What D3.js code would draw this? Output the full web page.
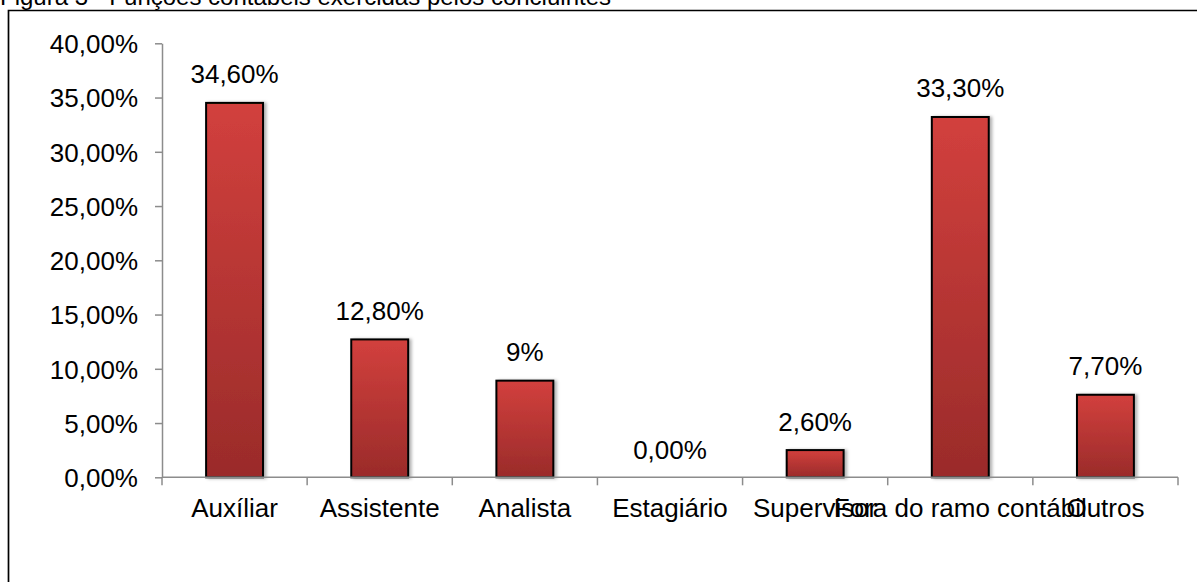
<!DOCTYPE html>
<html>
<head>
<meta charset="utf-8">
<script src="https://cdn.jsdelivr.net/npm/d3@7"></script>
<style>
  html, body { margin: 0; padding: 0; background: #fff; }
  svg { display: block; }
  text { font-family: "Liberation Sans", Arial, sans-serif; fill: #000; }
</style>
</head>
<body>
<svg id="chart" width="1197" height="582"></svg>
<script>
const title = "Figura 3 - Funções contábeis exercidas pelos concluintes";
const categories = ["Auxíliar", "Assistente", "Analista", "Estagiário", "Supervisor", "Fora do ramo contábil", "Outros"];
const values = [34.6, 12.8, 9, 0, 2.6, 33.3, 7.7];
const valueLabels = ["34,60%", "12,80%", "9%", "0,00%", "2,60%", "33,30%", "7,70%"];
const yTicks = [0, 5, 10, 15, 20, 25, 30, 35, 40];
const yTickLabels = ["0,00%", "5,00%", "10,00%", "15,00%", "20,00%", "25,00%", "30,00%", "35,00%", "40,00%"];

const svg = d3.select("#chart");
const FONT = 26;

// title (partially cut off at top)
svg.append("text").attr("x", 0).attr("y", 5)
  .style("font-size", "24px").text(title);

// frame
svg.append("path")
  .attr("d", "M8.5,600 L8.5,10.5 L1210,10.5")
  .attr("fill", "none").attr("stroke", "#000").attr("stroke-width", 1.7);

const plot = { left: 162, right: 1178, top: 43.3, bottom: 477.3 };

const x = d3.scaleBand().domain(categories).range([plot.left, plot.right])
  .paddingInner(0.594).paddingOuter(0.297);
const y = d3.scaleLinear().domain([0, 40]).range([plot.bottom, plot.top]);

const defs = svg.append("defs");
const grad = defs.append("linearGradient").attr("id", "barGrad")
  .attr("x1", 0).attr("y1", 0).attr("x2", 0).attr("y2", 1);
grad.append("stop").attr("offset", "0%").attr("stop-color", "#d2403d");
grad.append("stop").attr("offset", "100%").attr("stop-color", "#9a2b2a");
const filt = defs.append("filter").attr("id", "shadow")
  .attr("x", "-20%").attr("y", "-10%").attr("width", "150%").attr("height", "130%");
filt.append("feDropShadow").attr("dx", 2.5).attr("dy", 0.5)
  .attr("stdDeviation", 1.5).attr("flood-color", "#000").attr("flood-opacity", 0.3);

// bars
const bars = categories.map((c, i) => ({ c, v: values[i], label: valueLabels[i] }));
svg.append("g").selectAll("rect")
  .data(bars.filter(d => d.v > 0)).join("rect")
  .attr("x", d => x(d.c) + 1)
  .attr("y", d => y(d.v) + 1)
  .attr("width", x.bandwidth() - 2)
  .attr("height", d => y(0) - y(d.v) - 1)
  .attr("fill", "url(#barGrad)")
  .attr("stroke", "#000").attr("stroke-width", 2)
  .attr("filter", "url(#shadow)");

// y axis
const yAxis = d3.axisLeft(y).tickValues(yTicks)
  .tickFormat((d, i) => yTickLabels[i]).tickSize(7).tickSizeOuter(0);
const gy = svg.append("g").attr("transform", `translate(${plot.left},0)`).call(yAxis);
gy.select(".domain").attr("stroke", "#8c8c8c").attr("stroke-width", 1.5);
gy.selectAll(".tick line").attr("stroke", "#8c8c8c").attr("stroke-width", 1.5);
gy.selectAll(".tick text").attr("x", -24).attr("dy", "0.36em")
  .style("font-size", FONT + "px").style("font-family", '"Liberation Sans", Arial, sans-serif')
  .attr("fill", "#000");

// x axis
const step = x.step();
const boundaries = d3.range(categories.length + 1).map(i => plot.left + i * step);
const gx = svg.append("g");
gx.append("line").attr("x1", plot.left).attr("x2", plot.right)
  .attr("y1", y(0)).attr("y2", y(0))
  .attr("stroke", "#8c8c8c").attr("stroke-width", 1.5);
gx.selectAll("line.tk").data(boundaries).join("line").attr("class", "tk")
  .attr("x1", d => d).attr("x2", d => d)
  .attr("y1", y(0)).attr("y2", y(0) + 8)
  .attr("stroke", "#8c8c8c").attr("stroke-width", 1.5);
gx.selectAll("text").data(categories).join("text")
  .attr("x", d => x(d) + x.bandwidth() / 2)
  .attr("y", 517)
  .attr("text-anchor", "middle")
  .style("font-size", FONT + "px")
  .text(d => d);

// value labels
svg.append("g").selectAll("text").data(bars).join("text")
  .attr("x", d => x(d.c) + x.bandwidth() / 2)
  .attr("y", d => y(d.v) - 18.5)
  .attr("text-anchor", "middle")
  .style("font-size", FONT + "px")
  .text(d => d.label);
</script>
</body>
</html>
